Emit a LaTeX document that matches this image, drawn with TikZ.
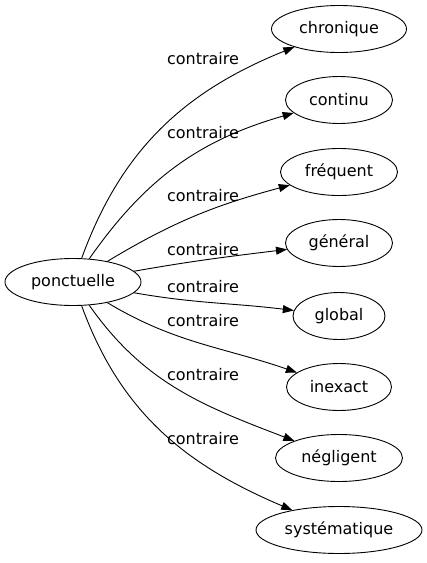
\documentclass[tikz,border=0pt]{standalone}
\usepackage{fontspec}
\setmainfont{DejaVu Sans}
\usetikzlibrary{shapes.geometric,arrows.meta}

\begin{document}
\begin{tikzpicture}[
  x=1pt, y=-1pt,
  font=\fontsize{16}{19}\selectfont,
  mot/.style={draw, ellipse, line width=0.9pt, inner sep=0pt, minimum height=47pt},
  rel/.style={line width=0.9pt, -{Triangle[length=11pt, width=8pt]}},
  lab/.style={inner sep=0pt},
]
\useasboundingbox (0,0) rectangle (427,563);
% mot de depart
\node[mot, minimum width=136pt] (ponct) at (73,282) {ponctuelle};
% contraires, une colonne a droite
\node[mot, minimum width=135pt] (chron) at (339,29) {chronique};
\node[mot, minimum width=107pt] (conti) at (339,100) {continu};
\node[mot, minimum width=117pt] (frequ) at (339,172) {fréquent};
\node[mot, minimum width=107pt] (gener) at (339,243) {général};
\node[mot, minimum width=92pt] (globa) at (339,316) {global};
\node[mot, minimum width=105pt] (inexa) at (339,387) {inexact};
\node[mot, minimum width=127pt] (negli) at (339,458) {négligent};
\node[mot, minimum width=166pt] (syste) at (339,530) {systématique};
% liens
\draw[rel] (ponct) to[out=70, in=202] (chron);
\draw[rel] (ponct) to[out=55, in=196] (conti);
\draw[rel] (ponct) to[out=31, in=195] (frequ);
\draw[rel] (ponct) to[out=10, in=187] (gener);
\draw[rel] (ponct) to[out=-10, in=173] (globa);
\draw[rel] (ponct) to[out=-31, in=161] (inexa);
\draw[rel] (ponct) to[out=-55, in=159] (negli);
\draw[rel] (ponct) to[out=-70, in=157] (syste);
% etiquettes
\node[lab] (l1) at (203,59) {contraire};
\node[lab] (l2) at (203,133) {contraire};
\node[lab] (l3) at (203,196) {contraire};
\node[lab] (l4) at (203,250) {contraire};
\node[lab] (l5) at (203,287) {contraire};
\node[lab] (l6) at (203,321) {contraire};
\node[lab] (l7) at (203,375) {contraire};
\node[lab] (l8) at (203,439) {contraire};
\end{tikzpicture}
\end{document}
